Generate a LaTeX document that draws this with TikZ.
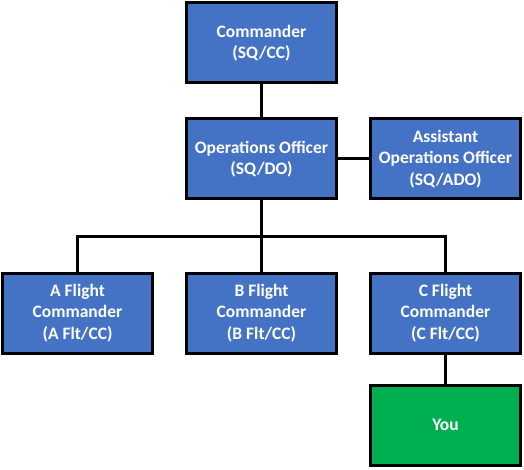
\documentclass[tikz,border=0pt]{standalone}
\usepackage{fontspec}
\setmainfont{Carlito}
\usetikzlibrary{positioning}
\definecolor{unitblue}{HTML}{4472C4}
\definecolor{yougreen}{HTML}{00B050}
\tikzset{
    %Define style for boxes
    unit/.style={
           rectangle,
           draw=black, line width=3pt,
           fill=unitblue,
           minimum width=150pt,
           minimum height=80pt,
           text=white,
           font=\fontsize{17.5}{21.5}\selectfont\bfseries,
           align=center,
           },
    % Define line style
    link/.style={
           draw=black,
           line width=3pt,},
}
\begin{document}
\begin{tikzpicture}[x=1pt,y=1pt]
\useasboundingbox (0,0) rectangle (524,-470);
\node[unit](cc) at (261.5,-43){Commander\\(SQ/CC)};
\node[unit, below=33pt of cc](do){Operations Officer\\(SQ/DO)};
\node[unit, right=31pt of do](ado){Assistant\\Operations Officer\\(SQ/ADO)};
\node[unit, below=71pt of do](bflt){B Flight\\Commander\\(B Flt/CC)};
\node[unit, left=31pt of bflt](aflt){A Flight\\Commander\\(A Flt/CC)};
\node[unit, right=31pt of bflt](cflt){C Flight\\Commander\\(C Flt/CC)};
\node[unit, fill=yougreen, below=29pt of cflt](you){You};
\path (do.south) ++(0,-36) coordinate (bus);
\path[link]
	(cc) -- (do)
	(do) -- (ado)
	(do) -- (bflt)
	(aflt.north) |- (bus) -| (cflt.north)
	(cflt) -- (you);
\end{tikzpicture}
\end{document}
